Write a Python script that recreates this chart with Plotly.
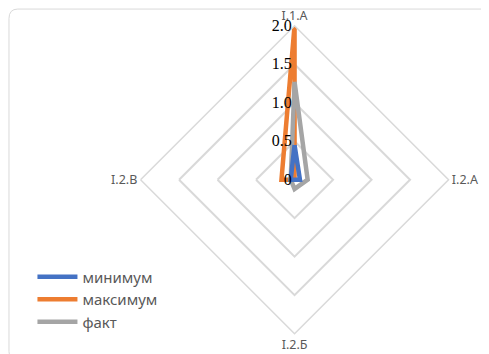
import plotly.graph_objects as go

categories = ["I.1.A", "I.2.A", "I.2.Б", "I.2.В"]
series_names = ["минимум", "максимум", "факт"]
minimum = [0.45, 0.07, 0.0, 0.05]
maximum = [2.0, 0.0, 0.0, 0.17]
fact = [1.27, 0.17, 0.12, 0.05]
radial_ticks = [0, 0.5, 1.0, 1.5, 2.0]
radial_tick_text = ["0", "0.5", "1.0", "1.5", "2.0"]

colors = {"минимум": "#4472C4", "максимум": "#ED7D31", "факт": "#A5A5A5"}
data = {"минимум": minimum, "максимум": maximum, "факт": fact}

fig = go.Figure()
draw_order = ["максимум", "факт", "минимум"]
for name in draw_order:
    vals = data[name]
    fig.add_trace(go.Scatterpolar(
        r=vals + [vals[0]],
        theta=categories + [categories[0]],
        mode="lines",
        name=name,
        line=dict(color=colors[name], width=4.5),
        legendrank=series_names.index(name) + 1,
    ))

fig.update_layout(
    width=489, height=354,
    margin=dict(l=0, r=0, t=0, b=0),
    paper_bgcolor="white",
    plot_bgcolor="white",
    font=dict(family="Noto Sans, Open Sans, sans-serif", color="#595959"),
    polar=dict(
        domain=dict(x=[0.271, 0.901], y=[0.080, 0.950]),
        bgcolor="white",
        gridshape="linear",
        angularaxis=dict(
            rotation=90, direction="clockwise",
            showgrid=False, showline=True, linecolor="#D9D9D9", linewidth=1.5,
            ticks="", tickfont=dict(family="Noto Sans", size=12.5, color="#595959"),
        ),
        radialaxis=dict(
            range=[0, 2], angle=90, tickangle=90,
            tickvals=radial_ticks, ticktext=radial_tick_text,
            showline=False, ticks="", gridcolor="#D9D9D9", gridwidth=1.5,
            side="counterclockwise",
            tickfont=dict(family="Liberation Serif", size=16, color="#000000"),
        ),
    ),
    legend=dict(
        x=0.05, y=0.287, xanchor="left", yanchor="top",
        font=dict(size=15, color="#595959"),
        bgcolor="rgba(0,0,0,0)", tracegroupgap=0, itemwidth=40,
    ),
    shapes=[dict(
        type="path", xref="paper", yref="paper",
        path="M 0.02,0.003 L 0.98,0.003 Q 0.998,0.003 0.998,0.03 L 0.998,0.97 Q 0.998,0.997 0.98,0.997 L 0.02,0.997 Q 0.002,0.997 0.002,0.97 L 0.002,0.03 Q 0.002,0.003 0.02,0.003 Z",
        line=dict(color="#D9D9D9", width=1),
    )],
)

fig.write_html("out.html")
